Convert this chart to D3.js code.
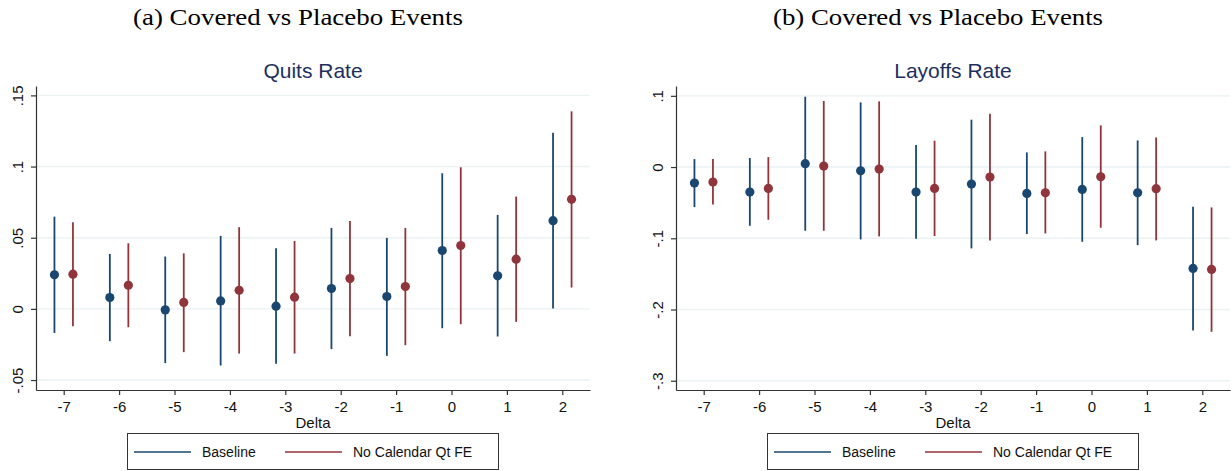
<!DOCTYPE html>
<html>
<head>
<meta charset="utf-8">
<script src="https://cdn.jsdelivr.net/npm/d3@7"></script>
<style>
    body { margin: 0; background: #fff; }
    text { font-family: "Liberation Sans", Arial, sans-serif; }
</style>
</head>
<body>
<div id="vis"></div>
<script>
/* ****** Data ****** */
var deltas = [-7, -6, -5, -4, -3, -2, -1, 0, 1, 2];

var quitsBase    = [0.0239, 0.0080, -0.0007, 0.0056, 0.0019, 0.0143, 0.0087, 0.0410, 0.0232, 0.0620];
var quitsBaseLo  = [-0.0169, -0.0227, -0.0381, -0.0398, -0.0386, -0.0283, -0.0330, -0.0136, -0.0194, 0.0002];
var quitsBaseHi  = [0.0648, 0.0386, 0.0368, 0.0513, 0.0426, 0.0569, 0.0499, 0.0953, 0.0660, 0.1238];
var quitsNoCal   = [0.0244, 0.0166, 0.0045, 0.0131, 0.0082, 0.0213, 0.0157, 0.0445, 0.0349, 0.0770];
var quitsNoCalLo = [-0.0122, -0.0129, -0.0304, -0.0314, -0.0314, -0.0192, -0.0255, -0.0108, -0.0091, 0.0150];
var quitsNoCalHi = [0.0609, 0.0461, 0.0390, 0.0574, 0.0477, 0.0618, 0.0569, 0.0995, 0.0789, 0.1388];

var layBase    = [-0.0225, -0.0351, 0.0047, -0.0052, -0.0351, -0.0239, -0.0370, -0.0314, -0.0361, -0.1423];
var layBaseLo  = [-0.0562, -0.0824, -0.0894, -0.1016, -0.1007, -0.1142, -0.0941, -0.1049, -0.1096, -0.2294];
var layBaseHi  = [0.0112, 0.0126, 0.0988, 0.0908, 0.0309, 0.0665, 0.0206, 0.0421, 0.0374, -0.0557];
var layNoCal   = [-0.0211, -0.0300, 0.0014, -0.0028, -0.0300, -0.0140, -0.0361, -0.0136, -0.0304, -0.1437];
var layNoCalLo = [-0.0524, -0.0740, -0.0894, -0.0974, -0.0969, -0.1030, -0.0932, -0.0852, -0.1030, -0.2313];
var layNoCalHi = [0.0112, 0.0140, 0.0927, 0.0922, 0.0370, 0.0749, 0.0220, 0.0585, 0.0416, -0.0567];

var quitsTicks  = [-0.05, 0, 0.05, 0.1, 0.15];
var quitsLabels = ["-.05", "0", ".05", ".1", ".15"];
var layTicks    = [-0.3, -0.2, -0.1, 0, 0.1];
var layLabels   = ["-.3", "-.2", "-.1", "0", ".1"];

var seriesNames = ["Baseline", "No Calendar Qt FE"];

/* ****** Layout ****** */
var width = 1231;
var height = 471;
var panelShift = 640;
var plot = { left: 36, right: 590, top: 86, bottom: 390 };
var dodge = 0.167;
var colors = ["#1a476f", "#90353b"];

var svg = d3.select("#vis")
    .append("svg")
    .attr("width", width)
    .attr("height", height);

var panels = [
    {
        caption: "(a) Covered vs Placebo Events",
        title: "Quits Rate",
        domain: [-0.057, 0.1566],
        ticks: quitsTicks, labels: quitsLabels,
        series: [[quitsBase, quitsBaseLo, quitsBaseHi], [quitsNoCal, quitsNoCalLo, quitsNoCalHi]]
    },
    {
        caption: "(b) Covered vs Placebo Events",
        title: "Layoffs Rate",
        domain: [-0.313, 0.1138],
        ticks: layTicks, labels: layLabels,
        series: [[layBase, layBaseLo, layBaseHi], [layNoCal, layNoCalLo, layNoCalHi]]
    }
];

var draw = function(p, i) {
    var g = svg.append("g")
        .attr("transform", "translate(" + (i * panelShift) + ",0)");

    var x = d3.scaleLinear().domain([-7.5, 2.5]).range([plot.left, plot.right]);
    var y = d3.scaleLinear().domain(p.domain).range([plot.bottom, plot.top]);

    /* ****** Caption and title ****** */
    g.append("text")
        .attr("x", 298)
        .attr("y", 25)
        .attr("text-anchor", "middle")
        .attr("textLength", 330)
        .attr("lengthAdjust", "spacingAndGlyphs")
        .style("font-family", "'Liberation Serif', 'Times New Roman', serif")
        .style("font-size", "23px")
        .attr("fill", "#000")
        .text(p.caption);

    g.append("text")
        .attr("x", (plot.left + plot.right) / 2)
        .attr("y", 78)
        .attr("text-anchor", "middle")
        .style("font-size", "21px")
        .attr("fill", "#1e2f5e")
        .text(p.title);

    /* ****** Grid ****** */
    g.selectAll(".grid")
        .data(p.ticks)
        .enter()
        .append("line")
        .attr("x1", plot.left)
        .attr("x2", plot.right)
        .attr("y1", function(d) { return y(d); })
        .attr("y2", function(d) { return y(d); })
        .attr("stroke", "#eaf2f3")
        .attr("stroke-width", 1.4);

    /* ****** Axes ****** */
    var yAxis = d3.axisLeft(y)
        .tickValues(p.ticks)
        .tickFormat(function(d, k) { return p.labels[k]; })
        .tickSize(5)
        .tickSizeOuter(0);

    var ya = g.append("g")
        .attr("transform", "translate(" + plot.left + ",0)")
        .call(yAxis);
    ya.selectAll("text")
        .attr("transform", "rotate(-90)")
        .attr("x", 0)
        .attr("y", -13)
        .attr("dy", null)
        .attr("text-anchor", "middle")
        .style("font-size", "15px")
        .attr("fill", "#111");

    var xAxis = d3.axisBottom(x)
        .tickValues(deltas)
        .tickFormat(d3.format("d"))
        .tickSize(5)
        .tickPadding(6)
        .tickSizeOuter(0);

    var xa = g.append("g")
        .attr("transform", "translate(0," + plot.bottom + ")")
        .call(xAxis);
    xa.selectAll("text")
        .style("font-size", "15px")
        .attr("fill", "#111")
        .text(function(d) { return String(d).replace("\u2212", "-"); });

    [ya, xa].forEach(function(a) {
        a.attr("font-family", null).attr("font-size", null);
        a.select(".domain").attr("stroke", "#333").attr("stroke-width", 1.2);
        a.selectAll(".tick line").attr("stroke", "#333").attr("stroke-width", 1.2);
    });

    g.append("text")
        .attr("x", (plot.left + plot.right) / 2)
        .attr("y", 428)
        .attr("text-anchor", "middle")
        .style("font-size", "15px")
        .attr("fill", "#111")
        .text("Delta");

    /* ****** Confidence intervals and point estimates ****** */
    p.series.forEach(function(s, k) {
        var off = k === 0 ? -dodge : dodge;
        var rows = deltas.map(function(d, j) {
            return { d: d, est: s[0][j], lo: s[1][j], hi: s[2][j] };
        });

        g.selectAll(".ci" + k)
            .data(rows)
            .enter()
            .append("line")
            .attr("x1", function(r) { return x(r.d + off); })
            .attr("x2", function(r) { return x(r.d + off); })
            .attr("y1", function(r) { return y(r.lo); })
            .attr("y2", function(r) { return y(r.hi); })
            .attr("stroke", colors[k])
            .attr("stroke-width", 1.8);

        g.selectAll(".pt" + k)
            .data(rows)
            .enter()
            .append("circle")
            .attr("cx", function(r) { return x(r.d + off); })
            .attr("cy", function(r) { return y(r.est); })
            .attr("r", 4.6)
            .attr("fill", colors[k]);
    });

    /* ****** Legend ****** */
    var leg = g.append("g");
    leg.append("rect")
        .attr("x", 127.5)
        .attr("y", 433.5)
        .attr("width", 371)
        .attr("height", 36)
        .attr("fill", "#fff")
        .attr("stroke", "#333")
        .attr("stroke-width", 1);

    var legX = [134, 285];
    seriesNames.forEach(function(name, k) {
        leg.append("line")
            .attr("x1", legX[k])
            .attr("x2", legX[k] + 57)
            .attr("y1", 452)
            .attr("y2", 452)
            .attr("stroke", colors[k])
            .attr("stroke-width", 1.3);
        leg.append("text")
            .attr("x", legX[k] + 68)
            .attr("y", 457)
            .style("font-size", "14px")
            .attr("fill", "#111")
            .text(name);
    });
}

panels.forEach(draw);
</script>
</body>
</html>
